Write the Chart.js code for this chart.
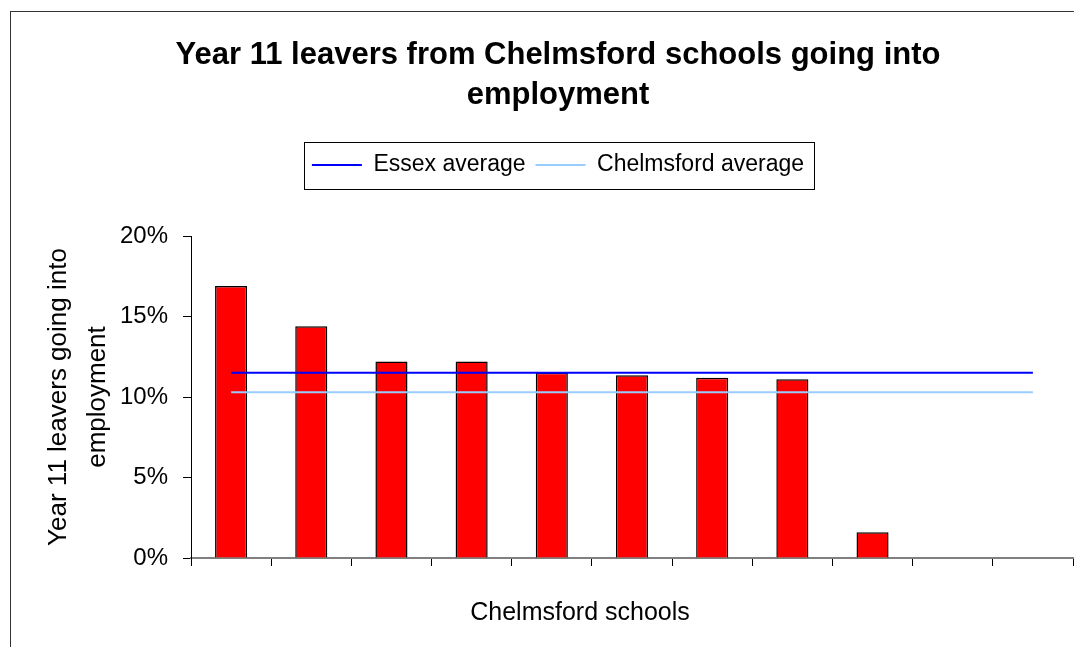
<!DOCTYPE html>
<html>
<head>
<meta charset="utf-8">
<script src="https://cdn.jsdelivr.net/npm/chart.js@4.4.1/dist/chart.umd.min.js"></script>
<style>
  html, body { margin: 0; padding: 0; background: #ffffff; overflow: hidden; width: 1074px; height: 647px; }
  canvas { display: block; }
</style>
</head>
<body>
<canvas id="chart" width="1110" height="647" style="width:1110px;height:647px;"></canvas>
<script>
// ---- data ----
const categories = ['School 1', 'School 2', 'School 3', 'School 4', 'School 5', 'School 6',
                    'School 7', 'School 8', 'School 9', 'School 10', 'School 11'];
const employmentRate = [16.9, 14.4, 12.2, 12.2, 11.5, 11.35, 11.2, 11.1, 1.6, null, null];
const essexAverage = [11.5, 11.5, 11.5, 11.5, 11.5, 11.5, 11.5, 11.5, 11.5, 11.5, 11.5];
const chelmsfordAverage = [10.3, 10.3, 10.3, 10.3, 10.3, 10.3, 10.3, 10.3, 10.3, 10.3, 10.3];
const yTickValues = [0, 5, 10, 15, 20];
const chartTitle = ['Year 11 leavers from Chelmsford schools going into', 'employment'];
const yAxisTitle = ['Year 11 leavers going into', 'employment'];
const xAxisTitle = 'Chelmsford schools';
const seriesNames = ['Essex average', 'Chelmsford average', 'Year 11 leavers going into employment'];

const FONT = "'Liberation Sans', Arial, Helvetica, sans-serif";
Chart.defaults.font.family = FONT;
Chart.defaults.color = '#000000';

const decorPlugin = {
  id: 'decor',
  beforeDraw(chart) {
    const ctx = chart.ctx;
    ctx.save();
    ctx.strokeStyle = '#333333';
    ctx.lineWidth = 1;
    ctx.strokeRect(10.5, 11.5, 3000, 3000);
    ctx.restore();
  },
  afterDraw(chart) {
    const ctx = chart.ctx;
    // legend frame
    const lg = chart.legend;
    if (lg && lg.legendHitBoxes && lg.legendHitBoxes.length) {
      const hb = lg.legendHitBoxes;
      let l = Infinity, r = -Infinity, t = Infinity, b = -Infinity;
      hb.forEach(h => { l = Math.min(l, h.left); r = Math.max(r, h.left + h.width); t = Math.min(t, h.top); b = Math.max(b, h.top + h.height); });
      ctx.save();
      ctx.strokeStyle = '#000000';
      ctx.lineWidth = 1;
      const x0 = Math.round(l - 8) + 0.5, x1 = Math.round(r + 10) + 0.5;
      const y0 = Math.round(t - 12) + 0.5, y1 = Math.round(b + 12) + 0.5;
      ctx.strokeRect(x0, y0, x1 - x0, y1 - y0);
      ctx.restore();
    }
    // x-axis title
    ctx.save();
    ctx.font = '25px ' + FONT;
    ctx.fillStyle = '#000000';
    ctx.textAlign = 'center';
    ctx.textBaseline = 'alphabetic';
    ctx.fillText(xAxisTitle, 580, 620);
    ctx.restore();
  }
};

new Chart(document.getElementById('chart'), {
  data: {
    labels: categories,
    datasets: [
      {
        type: 'line', label: seriesNames[0], data: essexAverage,
        borderColor: '#0000FF', backgroundColor: '#0000FF', borderWidth: 2,
        pointRadius: 0, pointHoverRadius: 0, fill: false, tension: 0
      },
      {
        type: 'line', label: seriesNames[1], data: chelmsfordAverage,
        borderColor: '#99CCFF', backgroundColor: '#99CCFF', borderWidth: 2,
        pointRadius: 0, pointHoverRadius: 0, fill: false, tension: 0
      },
      {
        type: 'bar', label: seriesNames[2], data: employmentRate,
        backgroundColor: '#FF0000', borderColor: '#000000', borderWidth: 1.5,
        barPercentage: 0.4, categoryPercentage: 1.0
      }
    ]
  },
  options: {
    responsive: false,
    animation: false,
    events: [],
    layout: { padding: { left: 10, right: 4, top: 0, bottom: 0 } },
    plugins: {
      tooltip: { enabled: false },
      title: {
        display: true, text: chartTitle, color: '#000000',
        font: { size: 31, weight: 'bold', lineHeight: 1.3 },
        padding: { top: 34.85, bottom: 28.05 }
      },
      subtitle: {
        display: true, text: '', weight: 500, position: 'top',
        font: { size: 1, lineHeight: 1 },
        padding: { top: 0, bottom: 48.5 }
      },
      legend: {
        display: true, position: 'top',
        labels: {
          filter: item => item.datasetIndex !== 2,
          usePointStyle: true, pointStyle: 'line', pointStyleWidth: 50,
          font: { size: 23 }, color: '#000000', padding: 10
        }
      }
    },
    scales: {
      x: {
        type: 'category', offset: true,
        grid: { display: true, offset: true, drawOnChartArea: false, drawTicks: true, tickLength: 8, color: '#000000', lineWidth: 1 },
        border: { display: true, color: '#808080', width: 2 },
        ticks: { display: false },
        afterFit: s => { s.height = 89; }
      },
      y: {
        type: 'linear', position: 'left', min: 0, max: 20,
        afterBuildTicks: s => { s.ticks = yTickValues.map(v => ({ value: v })); },
        grid: { display: true, drawOnChartArea: false, drawTicks: true, tickLength: 8, color: '#000000', lineWidth: 1 },
        border: { display: true, color: '#000000', width: 1 },
        ticks: { font: { size: 24 }, color: '#000000', padding: 15, callback: v => v + '%' },
        title: { display: true, text: yAxisTitle, font: { size: 26, lineHeight: 1.5 }, color: '#000000', padding: { top: 29.5, bottom: 0 } },
        afterFit: s => { s.width = 181; }
      },
      yRight: {
        type: 'linear', position: 'right', display: true,
        grid: { display: false }, border: { display: false }, ticks: { display: false },
        afterFit: s => { s.width = 33; }
      }
    }
  },
  plugins: [decorPlugin]
});
</script>
</body>
</html>
